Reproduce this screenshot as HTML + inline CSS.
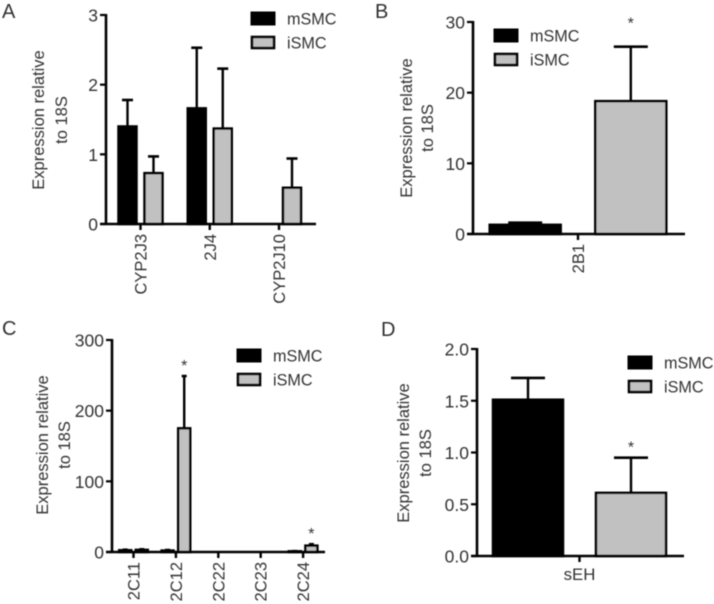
<!DOCTYPE html>
<html>
<head>
<meta charset="utf-8">
<style>
html,body{margin:0;padding:0;background:#fff;width:714px;height:604px;overflow:hidden}
svg{display:block;font-family:"Liberation Sans",sans-serif}
text{fill:#333}
</style>
</head>
<body>
<svg id="fig" xmlns="http://www.w3.org/2000/svg" width="714" height="604" viewBox="0 0 714 604">
<defs><filter id="soft" x="-5%" y="-5%" width="110%" height="110%"><feGaussianBlur stdDeviation="0.4"/></filter></defs>
<g id="root" filter="url(#soft)"></g>
</svg>
<script>
// Panel A
const catsA = ["CYP2J3", "2J4", "CYP2J10"];
const mSmcA = [1.4, 1.66, 0];
const mErrA = [1.78, 2.53, 0];
const iSmcA = [0.73, 1.37, 0.52];
const iErrA = [0.97, 2.23, 0.94];
const ticksA = [0, 1, 2, 3];
const starsA = [];
// Panel B
const catsB = ["2B1"];
const mSmcB = [1.3];
const mErrB = [1.6];
const iSmcB = [18.8];
const iErrB = [26.5];
const ticksB = [0, 10, 20, 30];
const starsB = [0];
// Panel C
const catsC = ["2C11", "2C12", "2C22", "2C23", "2C24"];
const mSmcC = [2.5, 2, 0, 0, 1];
const mErrC = [3.2, 2.8, 0, 0, 1.2];
const iSmcC = [3, 175, 0, 0, 9];
const iErrC = [3.8, 249, 0, 0, 11];
const ticksC = [0, 100, 200, 300];
const starsC = [1, 4];
// Panel D
const catsD = ["sEH"];
const mSmcD = [1.51];
const mErrD = [1.72];
const iSmcD = [0.61];
const iErrD = [0.95];
const ticksD = ["0.0", "0.5", "1.0", "1.5", "2.0"];
const starsD = [0];

const root = document.getElementById('root');
const NS = 'http://www.w3.org/2000/svg';
function mk(tag, props, parent, txt) {
  const el = document.createElementNS(NS, tag);
  for (const k in props) el.setAttribute(k, props[k]);
  if (txt !== undefined) el.textContent = txt;
  (parent || root).appendChild(el);
  return el;
}
function line(x1, y1, x2, y2, w, parent) {
  return mk('line', {x1: x1, y1: y1, x2: x2, y2: y2, stroke: '#000', 'stroke-width': w || 2}, parent);
}

function panel(o) {
  const g = mk('g', {});
  
  
  const yMax = Number(o.ticks[o.ticks.length - 1]);
  const Y = v => o.y0 + (o.y1 - o.y0) * (Number(v) / yMax);
  const X = i => o.x0 + o.step * i;

  const letter = mk('text', {x: o.lx, y: o.ly, 'font-size': 20}, g, o.id);
  
  

  // bars and error bars
  function series(vals, errs, off, w, fill, name) {
    vals.forEach((v, i) => {
      const cx = X(i) + off;
      if (errs[i] > v) {
        const el = line(cx, Y(v), cx, Y(errs[i]), 2.4, g);
        
        
        const cap = line(cx - o.cap / 2, Y(errs[i]), cx + o.cap / 2, Y(errs[i]), 2.6, g);
        
        
      }
      if (v > 0) {
        const r = mk('rect', {x: cx - w / 2, y: Y(v), width: w, height: o.y0 - Y(v), fill: fill, stroke: '#000', 'stroke-width': 2.5}, g);
        
        
      }
    });
  }
  series(o.m, o.mErr, -o.off, o.w, '#000', 'msmc');
  series(o.i, o.iErr, o.off, o.w, '#c1c1c1', 'ismc');

  // axes
  const ya = line(o.x0Axis, o.y1 - 1, o.x0Axis, o.y0 + 1, 2.6, g);
  
  
  const xa = line(o.x0Axis - 6, o.y0, o.xEnd, o.y0, 2.6, g);
  
  

  o.ticks.forEach(t => {
    const tk = line(o.x0Axis - 6, Y(t), o.x0Axis, Y(t), 2.2, g);
    
    
    const lb = mk('text', {x: o.x0Axis - 8, y: Y(t) + 6.5, 'font-size': 17.5, 'text-anchor': 'end'}, g, t);
    
    
  });

  o.cats.forEach((c, i) => {
    const tk = line(X(i), o.y0, X(i), o.y0 + 6, 2.4, g);
    
    
    let lb;
    if (o.flat) {
      lb = mk('text', {x: X(i), y: o.y0 + 24, 'font-size': 16.8, 'text-anchor': 'middle'}, g, c);
    } else {
      lb = mk('text', {transform: 'translate(' + (X(i) + 6) + ',' + (o.y0 + 10) + ') rotate(-90)', 'font-size': 16.5, 'text-anchor': 'end'}, g, c);
    }
    
    
  });

  // y title
  const t1 = mk('text', {transform: 'translate(' + (o.tx + 6) + ',' + o.ty + ') rotate(-90)', 'font-size': 16.5, 'text-anchor': 'middle'}, g, 'Expression relative');
  
  
  const t2 = mk('text', {transform: 'translate(' + (o.tx2 + 6) + ',' + o.ty + ') rotate(-90)', 'font-size': 16.5, 'text-anchor': 'middle'}, g, 'to 18S');
  
  

  // significance stars
  o.stars.forEach(i => {
    const top = Y(o.iErr[i]);
    const s = mk('text', {x: X(i) + o.off, y: top - o.starGap, 'font-size': 16, 'text-anchor': 'middle'}, g, '*');
    
    
  });

  // legend
  const lg = mk('g', {}, g);
  
  
  const s1 = mk('rect', {x: o.lgx, y: o.lgy, width: 24, height: 13, fill: '#000', stroke: '#000', 'stroke-width': 1}, lg);
  
  
  const l1 = mk('text', {x: o.lgx + 36, y: o.lgy + 12.5, 'font-size': 16.2}, lg, 'mSMC');
  
  
  const s2 = mk('rect', {x: o.lgx + 1, y: o.lgy + 25, width: 22, height: 11, fill: '#c1c1c1', stroke: '#000', 'stroke-width': 2.6}, lg);
  
  
  const l2 = mk('text', {x: o.lgx + 36, y: o.lgy + 36.5, 'font-size': 16.2}, lg, 'iSMC');
  
  
}

panel({id: 'A', cats: catsA, m: mSmcA, mErr: mErrA, i: iSmcA, iErr: iErrA, ticks: ticksA, stars: starsA,
  x0: 140.5, step: 69.25, off: 13, w: 18, cap: 11, x0Axis: 106, xEnd: 316, y0: 224, y1: 15,
  lx: 2, ly: 18, tx: 38, tx2: 61, ty: 120, lgx: 251, lgy: 12, starGap: 5});
panel({id: 'B', cats: catsB, m: mSmcB, mErr: mErrB, i: iSmcB, iErr: iErrB, ticks: ticksB, stars: starsB,
  x0: 578, step: 0, off: 52.8, w: 71, cap: 34, x0Axis: 473, xEnd: 685, y0: 234, y1: 22,
  lx: 375, ly: 18, tx: 406, tx2: 427, ty: 128, lgx: 494, lgy: 29, starGap: 18});
panel({id: 'C', cats: catsC, m: mSmcC, mErr: mErrC, i: iSmcC, iErr: iErrC, ticks: ticksC, stars: starsC,
  x0: 133.5, step: 42.4, off: 8.3, w: 12, cap: 5, x0Axis: 112, xEnd: 325, y0: 552, y1: 340,
  lx: 2, ly: 335, tx: 42, tx2: 64, ty: 445, lgx: 237, lgy: 349, starGap: 5});
panel({id: 'D', cats: catsD, m: mSmcD, mErr: mErrD, i: iSmcD, iErr: iErrD, ticks: ticksD, stars: starsD,
  x0: 579.5, step: 0, off: 51.5, w: 70, cap: 34, x0Axis: 477, xEnd: 684, y0: 556, y1: 349,
  lx: 381, ly: 336, tx: 403, tx2: 425, ty: 453, lgx: 628, lgy: 356, starGap: 5, flat: true});
</script>
</body>
</html>
